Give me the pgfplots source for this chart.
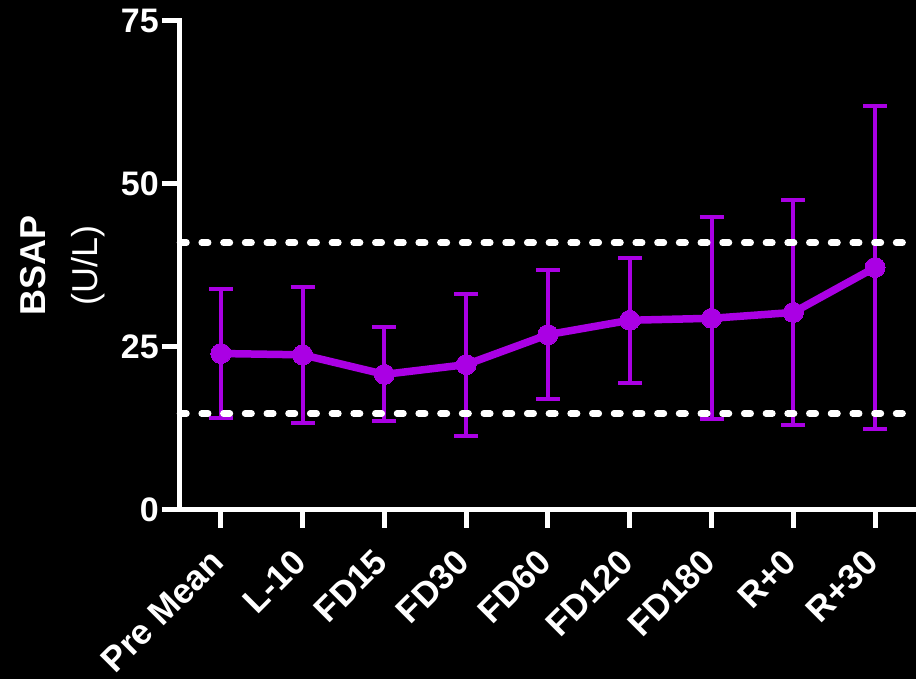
\documentclass[border=0pt]{standalone}
\usepackage{fontspec}
\setmainfont{Liberation Sans}
\usepackage{pgfplots}
\pgfplotsset{compat=1.18}
\definecolor{bsap}{RGB}{170,0,228}

% mean and SD of bone-specific alkaline phosphatase per time point
\pgfplotstableread{
x  mean  sd
0  24.0  9.9
1  23.8  10.4
2  20.8  7.2
3  22.3  10.9
4  26.9  9.9
5  29.1  9.6
6  29.4  15.5
7  30.3  17.3
8  37.2  24.8
}\bsapdata

\begin{document}
\begin{tikzpicture}[x=1pt,y=1pt]
\fill[black] (-180,-169) rectangle (736,510);
\useasboundingbox (-180,-169) rectangle (736,510);
\begin{axis}[
  at={(0,0)}, anchor=south west,
  scale only axis, width=736pt, height=489pt,
  xmin=-0.5, xmax=8.5, ymin=0, ymax=75,
  axis lines*=left,
  axis line style={white, line width=5pt, line cap=rect},
  xtick={0,...,8},
  xticklabels={Pre Mean, L-10, FD15, FD30, FD60, FD120, FD180, R+0, R+30},
  ytick={0,25,50,75},
  tick align=outside, major tick length=18pt,
  tick style={white, line width=5pt},
  /pgf/number format/assume math mode=true,
  every tick label/.append style={white, font=\bfseries\fontsize{34}{38}\selectfont},
  xticklabel style={rotate=45, anchor=north east, inner sep=0pt,
    font=\bfseries\fontsize{35}{40}\selectfont, xshift=-22pt, yshift=-5pt},
  yticklabel style={inner sep=3pt},
  ylabel={\bfseries BSAP\\(U/L)},
  ylabel style={white, font=\fontsize{36}{52}\selectfont, align=center,
    at={(axis description cs:-0.16,0.5)}, anchor=center},
  clip=false,
]
\addplot[bsap, line width=7.5pt, mark=*, mark size=10pt,
  mark options={fill=bsap, draw=bsap, line width=0pt},
  error bars/.cd, y dir=both, y explicit,
  error bar style={line width=4pt, bsap},
  error mark options={rotate=90, line width=4pt, bsap, mark size=12pt}]
  table[x=x, y=mean, y error=sd] {\bsapdata};
% reference range
\addplot[white, line width=6.5pt, line cap=round, dash pattern=on 6.5pt off 15.2pt]
  coordinates {(-0.5,41.0) (8.5,41.0)};
\addplot[white, line width=6.5pt, line cap=round, dash pattern=on 6.5pt off 15.2pt]
  coordinates {(-0.5,14.8) (8.5,14.8)};
\end{axis}
\end{tikzpicture}
\end{document}
